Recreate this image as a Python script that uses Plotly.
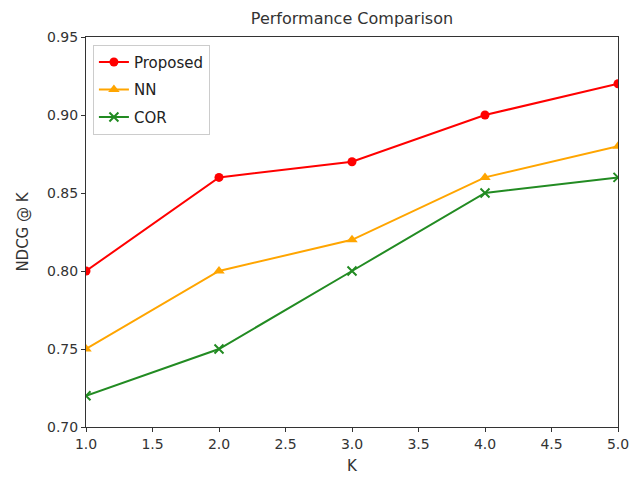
import plotly.graph_objects as go

k_values = [1, 2, 3, 4, 5]
proposed = [0.80, 0.86, 0.87, 0.90, 0.92]
nn = [0.75, 0.80, 0.82, 0.86, 0.88]
cor = [0.72, 0.75, 0.80, 0.85, 0.86]

x_ticks = [1.0, 1.5, 2.0, 2.5, 3.0, 3.5, 4.0, 4.5, 5.0]
y_ticks = [0.70, 0.75, 0.80, 0.85, 0.90, 0.95]

fig = go.Figure()
fig.add_trace(go.Scatter(x=k_values, y=proposed, name="Proposed", mode="lines+markers",
                         legendgroup="a",
                         line=dict(color="red", width=2),
                         marker=dict(symbol="circle", size=9, color="red")))
fig.add_trace(go.Scatter(x=k_values, y=nn, name="NN", mode="lines+markers",
                         legendgroup="b",
                         line=dict(color="orange", width=2),
                         marker=dict(symbol="triangle-up", size=10, color="orange")))
fig.add_trace(go.Scatter(x=k_values, y=cor, name="COR", mode="lines+markers",
                         legendgroup="c",
                         line=dict(color="forestgreen", width=2),
                         marker=dict(symbol="x-thin", size=9, color="forestgreen",
                                     line=dict(color="forestgreen", width=2))))

axis_common = dict(showline=True, linecolor="#333", linewidth=1, mirror=True,
                   ticks="outside", ticklen=4, tickcolor="#333", showgrid=False,
                   zeroline=False, automargin=False, tickfont=dict(size=14, color="#333"))

fig.update_layout(
    width=636, height=473,
    margin=dict(l=78, r=26, t=29, b=54),
    paper_bgcolor="white", plot_bgcolor="white",
    font=dict(family="DejaVu Sans", color="#333"),
    title=dict(text="Performance Comparison", x=0.5 + (78 - 26) / 2 / 636,
               xref="container", xanchor="center",
               y=1 - 10 / 473, yref="container", yanchor="middle",
               font=dict(size=16, color="#333")),
    xaxis=dict(range=[1, 5], tickvals=x_ticks, ticktext=[f"{v:.1f}" for v in x_ticks],
               title=dict(text="K", font=dict(size=15), standoff=9), **axis_common),
    yaxis=dict(range=[0.70, 0.95], tickvals=y_ticks, ticktext=[f"{v:.2f}" for v in y_ticks],
               title=dict(text="NDCG @ K", font=dict(size=15), standoff=14), **axis_common),
    legend=dict(x=0.013, y=0.98, xanchor="left", yanchor="top",
                bgcolor="rgba(255,255,255,0.8)", bordercolor="#ccc", borderwidth=1,
                font=dict(size=15, color="#222"), tracegroupgap=5),
    showlegend=True,
)

fig.write_html("out.html")
